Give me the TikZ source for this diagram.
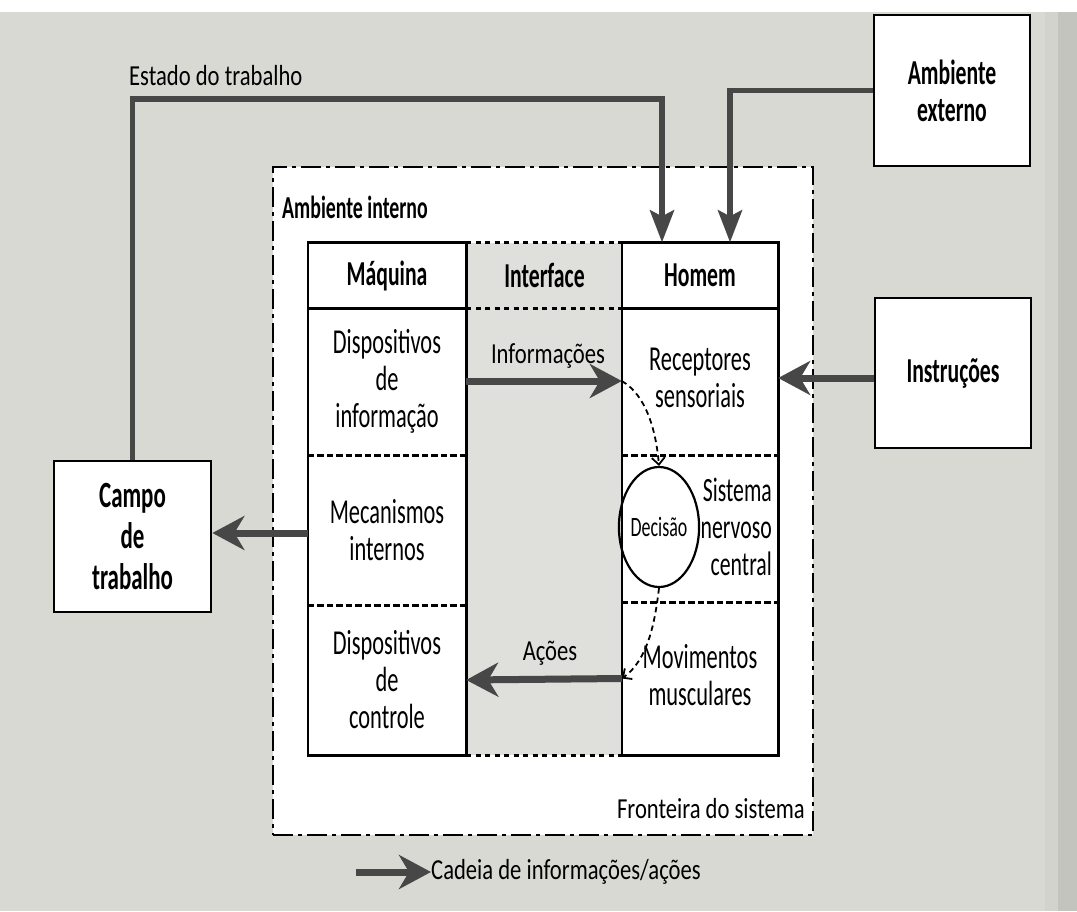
\documentclass[tikz,border=0pt]{standalone}
\usepackage{fontspec}
\setmainfont{Carlito}
\newfontfamily\cellfont{Carlito}[FakeStretch=0.64]
\newfontfamily\labfont{Carlito}[FakeStretch=0.78]
\newfontfamily\hfont{Carlito Bold}[FakeStretch=0.62]
\usetikzlibrary{arrows.meta,shapes.geometric}
\definecolor{bg}{HTML}{D9D9D4}
\definecolor{bgdark}{HTML}{C4C4BF}
\definecolor{agray}{HTML}{474747}
\tikzset{
  outbox/.style={draw, line width=2.8pt, fill=white, minimum width=156pt, minimum height=150pt, align=center, font=\hfont\fontsize{35}{37}\selectfont},
  cell/.style={minimum width=158pt, align=center, inner sep=0pt, font=\cellfont\fontsize{35}{37}\selectfont},
  head/.style={minimum width=158pt, minimum height=66pt, inner sep=0pt, font=\hfont\fontsize{35}{37}\selectfont},
  lab/.style={inner sep=0pt, font=\labfont\fontsize{29}{32}\selectfont},
  colline/.style={line width=2.6pt},
  sepline/.style={line width=3pt, dash pattern=on 6.5pt off 3pt},
  dotline/.style={line width=3.2pt, dash pattern=on 5pt off 4.5pt},
  boundary/.style={draw, fill=white, line width=2.8pt, dash pattern=on 20pt off 5pt on 4pt off 5pt},
  bigarrow/.style={draw=agray, line width=7pt, -{Stealth[length=32pt,width=34pt,inset=10pt]}},
  feed/.style={draw=agray, line width=5.5pt, line cap=butt, -{Stealth[length=32pt,width=24pt,inset=6pt]}},
  curv/.style={line width=1.8pt, dash pattern=on 5.5pt off 4pt, -{Straight Barb[length=7pt,width=13pt]}},
}
\begin{document}
\begin{tikzpicture}[x=1pt,y=-1pt]
\useasboundingbox (0,0) rectangle (1077,911);
% background
\fill[bg] (0,12) rectangle (1077,911);
\fill[bg!70!bgdark] (1045,12) rectangle (1077,911);
\fill[bgdark] (1058,12) rectangle (1077,911);
\fill[white] (0,0) rectangle (1077,12);

% system boundary
\node[boundary, minimum width=540pt, minimum height=668pt] (sys) at (543,501) {};
% interface shading
\fill[bg!85!white] (467,243) rectangle (622,755);

% Maquina column
\node[head] (mhead) at (387,275.5) {};
\node[cell, minimum height=147pt] (m1) at (387,381.5) {};
\node[cell, minimum height=150pt] (m2) at (387,530) {};
\node[cell, minimum height=150pt] (m3) at (387,680) {};
\fill[white] (mhead.north west) rectangle (m3.south east);
\node[head] at (mhead) {Máquina};
\node[cell] at (m1) {Dispositivos\\de\\informação};
\node[cell] at (m2) {Mecanismos\\internos};
\node[cell] at (m3) {Dispositivos\\de\\controle};
\draw[colline] (mhead.north west) rectangle (m3.south east);
\draw[colline] (mhead.south west) -- (mhead.south east);
\draw[sepline] (m1.south west) -- (m1.south east);
\draw[sepline] (m2.south west) -- (m2.south east);

% Homem column
\node[head, minimum width=156pt] (hhead) at (700,275.5) {};
\node[cell, minimum width=156pt, minimum height=147pt] (h1) at (700,381.5) {};
\node[cell, minimum width=156pt, minimum height=147pt] (h2) at (700,528.5) {};
\node[cell, minimum width=156pt, minimum height=153pt] (h3) at (700,678.5) {};
\fill[white] (hhead.north west) rectangle (h3.south east);
\node[head] at (hhead) {Homem};
\node[cell] at (700,378) {Receptores\\sensoriais};
\node[cell, align=right, anchor=east, minimum width=0pt, font=\cellfont\fontsize{34}{37}\selectfont] at (772,527) {Sistema\\nervoso\\central};
\node[cell] at (700,675) {Movimentos\\musculares};
\draw[colline] (hhead.north west) rectangle (h3.south east);
\draw[colline] (hhead.south west) -- (hhead.south east);
\draw[sepline] (h1.south west) -- (h1.south east);
\draw[sepline] (h2.south west) -- (h2.south east);

% Decisao
\node[draw, ellipse, line width=2.2pt, minimum width=60pt, minimum height=120pt, inner sep=0pt,
      font=\cellfont\fontsize{28}{30}\selectfont] (dec) at (659,527) {Decisão};

% Interface
\draw[dotline] (mhead.north east) -- (hhead.north west);
\draw[dotline] (mhead.south east) -- (hhead.south west);
\draw[dotline] (m3.south east) -- (h3.south west);
\node[head, minimum width=150pt] (iface) at (544.5,275.5) {Interface};

% labels in boundary
\node[inner sep=0pt, anchor=west, font=\hfont\fontsize{32}{34}\selectfont] (amint) at (282,207) {Ambiente interno};
\node[lab, anchor=base east] (front) at (805,818) {Fronteira do sistema};

% outside boxes
\node[outbox, minimum height=151pt] (amb) at (952,90.5) {Ambiente\\externo};
\node[outbox] (instr) at (953,373) {Instruções};
\node[outbox, minimum width=157pt, minimum height=151pt, font=\hfont\fontsize{37}{41}\selectfont] (campo) at (132.5,536.5) {Campo\\de\\trabalho};

% feedback lines
\coordinate (e1) at (662,99);
\coordinate (a1) at (730,90.5);
\draw[feed] (campo.north) |- (e1) -- (e1 |- hhead.north);
\draw[feed] (amb.west) -- (a1) -- (a1 |- hhead.north);
\node[lab, anchor=base west] (estado) at (129,85) {Estado do trabalho};

% main arrows
\draw[bigarrow] (m1.east |- 0,381) -- (h1.west |- 0,381);
\node[lab] (infl) at (548,356) {Informações};
\draw[bigarrow] (h3.west) -- (m3.east);
\node[lab] (acl) at (550,653) {Ações};
\draw[bigarrow] (instr.west |- 0,378) -- (h1.east |- 0,378);
\draw[bigarrow] (m2.west |- 0,533) -- (campo.east |- 0,533);

% dashed decision flow
\draw[curv] (h1.west |- 0,381) .. controls (646,395) and (656,430) .. (dec.north);
\draw[curv] (dec.south) .. controls (655,622) and (648,660) .. (h3.west);

% legend
\coordinate (l1) at (356,872);
\coordinate (l2) at (431,872);
\draw[bigarrow] (l1) -- (l2);
\node[lab, anchor=west] (leg) at (l2) {Cadeia de informações/ações};
\end{tikzpicture}
\end{document}
